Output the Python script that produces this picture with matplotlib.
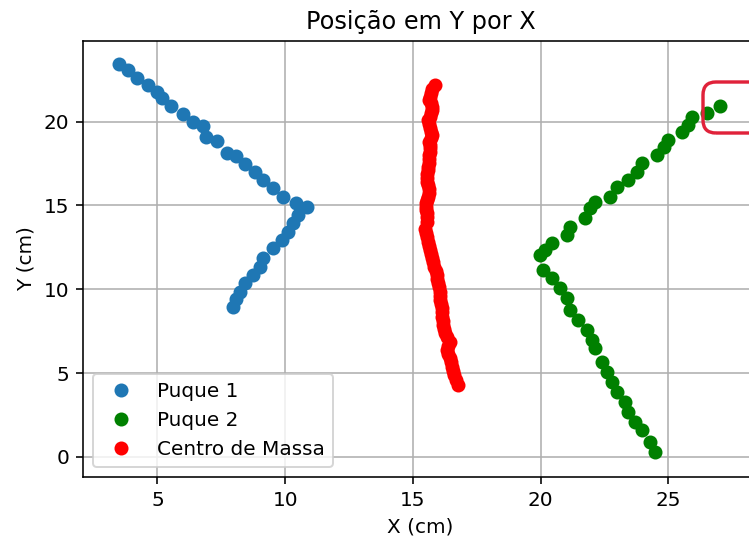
import matplotlib.pyplot as plt
from matplotlib.patches import FancyBboxPatch

# Puque 1
x1 = [7.97, 8.08, 8.24, 8.43, 8.76, 9.02, 9.15, 9.54, 9.87, 10.13, 10.32, 10.52,
      10.85, 10.43, 9.93, 9.54, 9.15, 8.82, 8.43, 8.08, 7.72, 7.32, 6.91, 6.80,
      6.41, 6.02, 5.52, 5.17, 5.00, 4.62, 4.22, 3.86, 3.50]
y1 = [8.96, 9.42, 9.86, 10.36, 10.85, 11.35, 11.85, 12.44, 12.94, 13.43, 13.94, 14.43,
      14.89, 15.16, 15.52, 16.02, 16.52, 17.01, 17.47, 17.95, 18.15, 18.84, 19.06, 19.74,
      19.99, 20.45, 20.93, 21.43, 21.78, 22.18, 22.58, 23.08, 23.43]

# Puque 2
x2 = [24.48, 24.28, 23.96, 23.70, 23.43, 23.31, 22.98, 22.78, 22.59, 22.39, 22.13,
      22.00, 21.81, 21.48, 21.15, 21.02, 20.76, 20.44, 20.11, 19.98, 20.18, 20.44,
      21.02, 21.15, 21.74, 21.93, 22.13, 22.72, 22.98, 23.43, 23.76, 23.96, 24.55,
      24.81, 25.00, 25.52, 25.78, 25.92, 26.50, 27.02]
y2 = [0.32, 0.91, 1.61, 2.10, 2.70, 3.30, 3.89, 4.49, 5.09, 5.68, 6.48,
      6.98, 7.57, 8.17, 8.77, 9.46, 10.06, 10.66, 11.15, 12.05, 12.34, 12.74,
      13.24, 13.73, 14.23, 14.83, 15.22, 15.52, 16.12, 16.52, 17.01, 17.51, 18.01,
      18.50, 18.90, 19.40, 19.80, 20.29, 20.53, 20.93]

# Centro de massa
xcm = [16.76, 16.68, 16.62, 16.56, 16.52, 16.50, 16.46, 16.39, 16.33, 16.39, 16.46,
       16.33, 16.26, 16.23, 16.19, 16.17, 16.15, 16.13, 16.13, 16.10, 16.06, 16.06,
       16.06, 16.03, 16.00, 15.96, 15.94, 15.90, 15.84, 15.80, 15.76, 15.71, 15.67,
       15.63, 15.58, 15.54, 15.50, 15.48, 15.54, 15.54, 15.54, 15.52, 15.50, 15.52,
       15.54, 15.58, 15.63, 15.62, 15.61, 15.57, 15.54, 15.56, 15.58, 15.61, 15.63,
       15.63, 15.63, 15.66, 15.67, 15.65, 15.63, 15.69, 15.74, 15.71, 15.67, 15.63,
       15.61, 15.66, 15.71, 15.74, 15.74, 15.69, 15.63, 15.67, 15.71, 15.76, 15.86]
ycm = [4.29, 4.59, 4.89, 5.15, 5.39, 5.65, 5.89, 6.14, 6.38, 6.64, 6.88,
       7.14, 7.38, 7.63, 7.87, 8.13, 8.37, 8.63, 8.87, 9.12, 9.36, 9.62,
       9.86, 10.12, 10.36, 10.61, 10.85, 11.11, 11.35, 11.61, 11.85, 12.10, 12.34,
       12.60, 12.84, 13.10, 13.34, 13.60, 14.03, 14.29, 14.53, 14.73, 14.93, 15.13,
       15.33, 15.52, 15.72, 15.98, 16.22, 16.42, 16.62, 16.88, 17.11, 17.31, 17.51,
       17.77, 18.01, 18.21, 18.41, 18.60, 18.80, 19.00, 19.20, 19.40, 19.60, 19.86,
       20.10, 20.29, 20.49, 20.69, 20.89, 21.09, 21.29, 21.48, 21.69, 21.94, 22.18]

fig = plt.figure(figsize=(749 / 144, 543 / 144), dpi=144)
ax = fig.add_axes([0.1112, 0.1221, 0.9006, 0.8025])

ax.plot(x1, y1, 'o', label='Puque 1')
ax.plot(x2, y2, 'go', label='Puque 2')
ax.plot(xcm, ycm, 'ro', label='Centro de Massa')

ax.set_xlim(2.10, 28.5)
ax.set_ylim(-1.175, 24.81)
ax.set_xticks([5, 10, 15, 20, 25])
ax.set_yticks([0, 5, 10, 15, 20])
ax.grid(True)

ax.set_title('Posição em Y por X')
ax.set_xlabel('X (cm)')
ax.set_ylabel('Y (cm)')
ax.legend(loc='lower left')

# marcacao vermelha em volta do ultimo ponto
box = FancyBboxPatch((703 / 144, 410 / 144), 60 / 144, 51 / 144,
                     boxstyle='round,pad=0,rounding_size=0.09',
                     transform=fig.dpi_scale_trans, fill=False,
                     edgecolor='#e0223a', linewidth=1.7)
fig.patches.append(box)

fig.savefig('out.png', dpi=144)
